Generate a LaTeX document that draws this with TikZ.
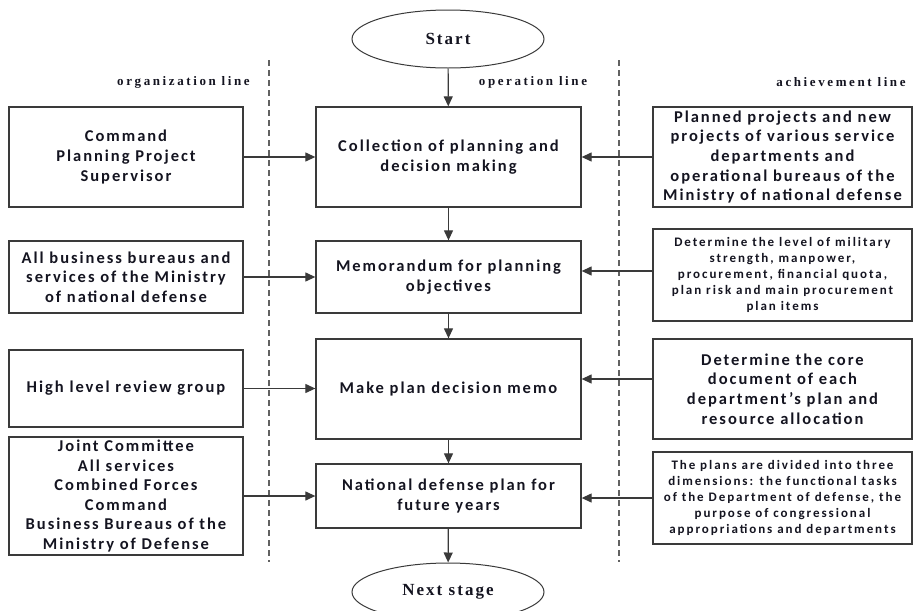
\documentclass[tikz,border=0pt]{standalone}
\usepackage{fontspec}
\setmainfont{Carlito}
\newfontfamily\labelfont{Liberation Serif}
\usetikzlibrary{arrows.meta,shapes.geometric}
\definecolor{edge}{HTML}{3A3A3A}
\definecolor{ink}{HTML}{141420}
\tikzset{
  box/.style={draw=edge, line width=1.3pt, align=center, inner sep=2pt,
    text=ink, font=\fontsize{16.5}{19.6}\selectfont\bfseries\addfontfeatures{LetterSpace=12}},
  smallbox/.style={box, font=\fontsize{13}{16}\selectfont\bfseries\addfontfeatures{LetterSpace=15}},
  term/.style={draw=edge, line width=1pt, ellipse, minimum width=192pt, minimum height=58pt,
    inner sep=0pt, text=ink, font=\labelfont\fontsize{17}{20}\selectfont\bfseries\addfontfeatures{LetterSpace=12}},
  lanelabel/.style={text=ink, inner sep=0pt, font=\labelfont\fontsize{13}{15}\selectfont\bfseries\addfontfeatures{LetterSpace=20}},
  lane/.style={draw=edge!80, line width=1.2pt, dash pattern=on 6pt off 4pt},
  arr/.style={draw=edge, line width=1.2pt, -{Triangle[length=10pt,width=9pt]}}
}
\begin{document}
\begin{tikzpicture}[x=1pt, y=-1pt]
\useasboundingbox (0,0) rectangle (914,611);
\clip (0,0) rectangle (914,611);

% lane separators
\coordinate (d1t) at (269,60);  \coordinate (d1b) at (269,562);
\coordinate (d2t) at (619,60);  \coordinate (d2b) at (619,562);
\draw[lane] (d1t) -- (d1b);
\draw[lane] (d2t) -- (d2b);

% lane titles
\node[lanelabel] (lorg) at (183.5,82) {organization line};
\node[lanelabel] (lop)  at (533,82)   {operation line};
\node[lanelabel] (lach) at (841,82)   {achievement line};

% terminals
\node[term] (start) at (448,39)  {Start};
\node[term] (next)  at (448,592) {Next stage};

% operation line
\node[box, minimum width=265pt, minimum height=100pt] (c1) at (448.5,157) {Collection of planning and\\decision making};
\node[box, minimum width=265pt, minimum height=72pt]  (c2) at (448.5,277) {Memorandum for planning\\objectives};
\node[box, minimum width=265pt, minimum height=100pt] (c3) at (448.5,389) {Make plan decision memo};
\node[box, minimum width=265pt, minimum height=64pt]  (c4) at (448.5,496) {National defense plan for\\future years};

% organization line
\node[box, minimum width=234pt, minimum height=100pt] (l1) at (126,157) {Command\\Planning Project\\Supervisor};
\node[box, minimum width=234pt, minimum height=72pt]  (l2) at (126,277) {All business bureaus and\\services of the Ministry\\of national defense};
\node[box, minimum width=234pt, minimum height=77pt]  (l3) at (126,388.5) {High level review group};
\node[box, minimum width=234pt, minimum height=118pt] (l4) at (126,496) {Joint Committee\\All services\\Combined Forces\\Command\\Business Bureaus of the\\Ministry of Defense};

% achievement line
\node[box, minimum width=259pt, minimum height=100pt] (r1) at (782.5,157) {Planned projects and new\\projects of various service\\departments and\\operational bureaus of the\\Ministry of national defense};
\node[smallbox, minimum width=259pt, minimum height=92pt] (r2) at (782.5,275) {Determine the level of military\\strength, manpower,\\procurement, financial quota,\\plan risk and main procurement\\plan items};
\node[box, minimum width=259pt, minimum height=100pt] (r3) at (782.5,389) {Determine the core\\document of each\\department's plan and\\resource allocation};
\node[smallbox, minimum width=259pt, minimum height=92pt] (r4) at (782.5,498) {The plans are divided into three\\dimensions: the functional tasks\\of the Department of defense, the\\purpose of congressional\\appropriations and departments};

% main flow
\draw[arr] (start) -- (c1);
\draw[arr] (c1) -- (c2);
\draw[arr] (c2) -- (c3);
\draw[arr] (c3) -- (c4);
\draw[arr] (c4) -- (next);

% inputs from the organization line
\draw[arr] (l1.east) -- (l1.east -| c1.west);
\draw[arr] (l2.east) -- (l2.east -| c2.west);
\draw[arr] (l3.east) -- (l3.east -| c3.west);
\draw[arr] (l4.east) -- (l4.east -| c4.west);

% inputs from the achievement line
\draw[arr] (r1.west) -- (r1.west -| c1.east);
\draw[arr] ([yshift=4pt]r2.west) -- ([yshift=4pt]r2.west -| c2.east);
\draw[arr] ([yshift=10pt]r3.west) -- ([yshift=10pt]r3.west -| c3.east);
\draw[arr] (r4.west) -- (r4.west -| c4.east);
\end{tikzpicture}
\end{document}
